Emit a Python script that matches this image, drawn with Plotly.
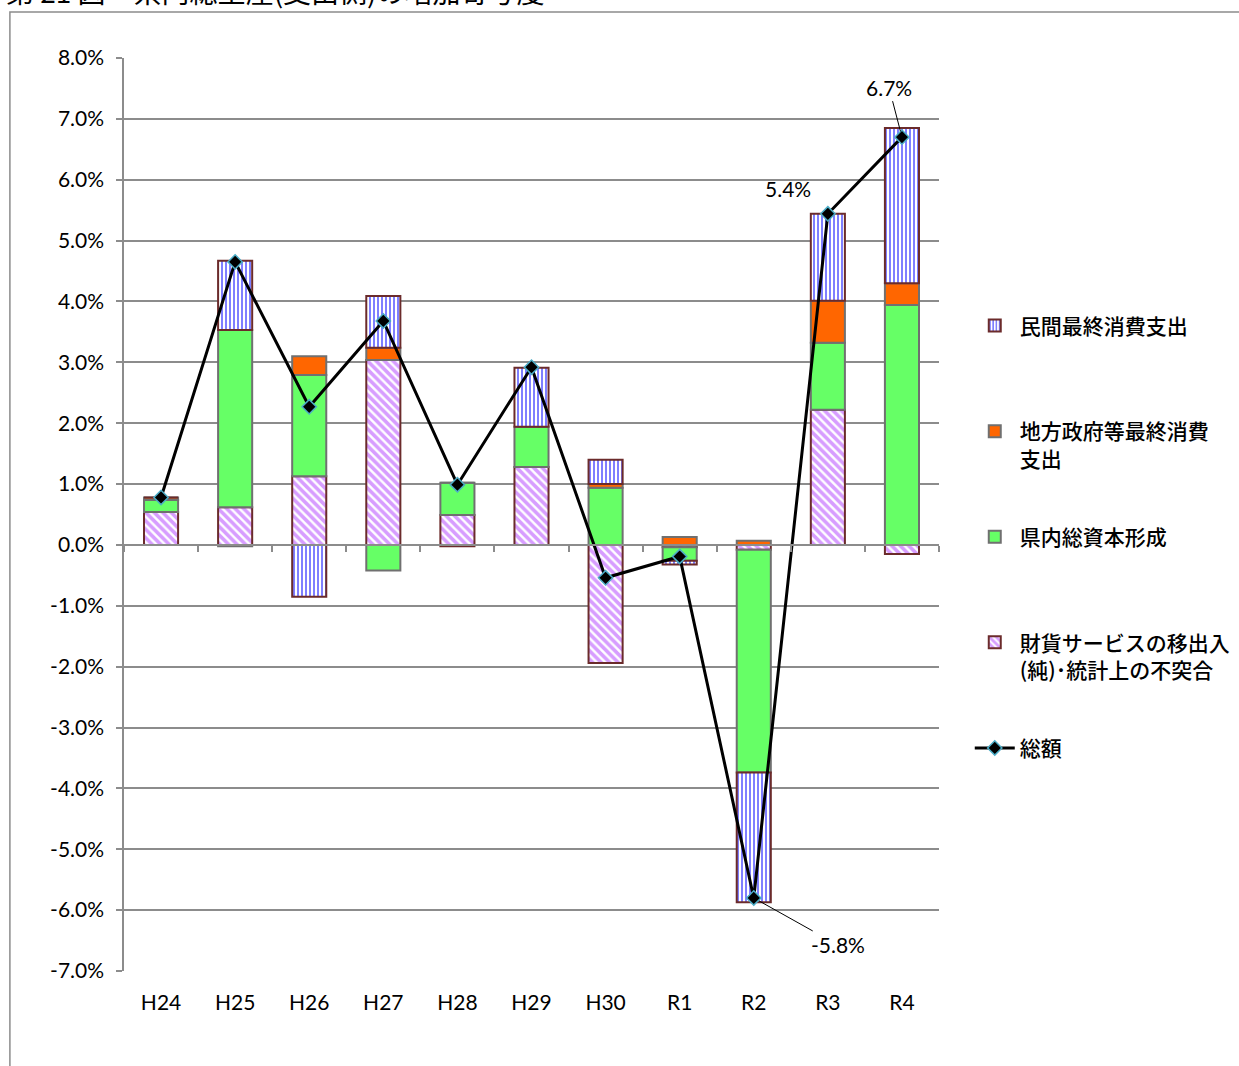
import plotly.graph_objects as go

# 年度
years = ["H24", "H25", "H26", "H27", "H28", "H29", "H30", "R1", "R2", "R3", "R4"]

# 項目別寄与度（%）
private_consumption = [0.00, 1.14, -0.85, 0.85, -0.02, 0.97, 0.40, -0.06, -2.13, 1.43, 2.55]
government_consumption = [0.04, -0.02, 0.31, 0.20, 0.00, 0.00, 0.06, 0.13, 0.07, 0.69, 0.36]
capital_formation = [0.20, 2.91, 1.66, -0.42, 0.53, 0.66, 0.94, -0.22, -3.66, 1.10, 3.94]
net_exports_discrepancy = [0.54, 0.62, 1.13, 3.04, 0.49, 1.28, -1.94, -0.04, -0.08, 2.22, -0.15]

# 総額（増加率, %）
total = [0.78, 4.65, 2.27, 3.68, 0.99, 2.92, -0.54, -0.19, -5.80, 5.44, 6.70]

# 目盛
y_ticks = [8, 7, 6, 5, 4, 3, 2, 1, 0, -1, -2, -3, -4, -5, -6, -7]

BROWN = "#6b2b2b"
GRAY_EDGE = "#707070"
JP_FONT = "Noto Sans CJK JP"
NUM_FONT = "Lato"
NBSP = "\u00a0"

fig = go.Figure()

# 積み上げ順：移出入 → 資本形成 → 政府消費 → 民間消費
fig.add_trace(go.Bar(
    x=years, y=net_exports_discrepancy,
    name="財貨サービスの移出入<br>(純)･統計上の不突合",
    legendgroup="d", legendrank=4,
    marker=dict(color="white", line=dict(color=BROWN, width=2),
                pattern=dict(shape="\\", fgcolor="#b03cff", bgcolor="white",
                             size=6, solidity=0.6)),
))
fig.add_trace(go.Bar(
    x=years, y=capital_formation,
    name="県内総資本形成<br>" + NBSP,
    legendgroup="c", legendrank=3,
    marker=dict(color="#66ff66", line=dict(color=GRAY_EDGE, width=2)),
))
fig.add_trace(go.Bar(
    x=years, y=government_consumption,
    name="地方政府等最終消費<br>支出",
    legendgroup="b", legendrank=2,
    marker=dict(color="#ff6600", line=dict(color=GRAY_EDGE, width=2)),
))
fig.add_trace(go.Bar(
    x=years, y=private_consumption,
    name="民間最終消費支出<br>" + NBSP,
    legendgroup="a", legendrank=1,
    marker=dict(color="white", line=dict(color=BROWN, width=2),
                pattern=dict(shape="|", fgcolor="#0000ff", bgcolor="white",
                             size=4, solidity=0.5)),
))
fig.add_trace(go.Scatter(
    x=years, y=total, xaxis="x2",
    name="総額<br>" + NBSP, legendgroup="e", legendrank=5,
    mode="lines+markers",
    line=dict(color="black", width=3),
    marker=dict(symbol="diamond", size=11, color="black",
                line=dict(color="#4bacc6", width=1.5)),
))

# 数値ラベル（R2〜R4）
fig.add_annotation(x="R3", y=total[9], xref="x2", yref="y",
                   text=f"{total[9]:.1f}%", showarrow=False,
                   xshift=-40, yshift=25,
                   font=dict(family=NUM_FONT, size=21, color="black"))
fig.add_annotation(x="R4", y=total[10], xref="x2", yref="y",
                   text=f"{total[10]:.1f}%", showarrow=True,
                   arrowhead=0, arrowwidth=1, arrowcolor="black",
                   ax=-13, ay=-50, standoff=6,
                   font=dict(family=NUM_FONT, size=21, color="black"))
fig.add_annotation(x="R2", y=total[8], xref="x2", yref="y",
                   text=f"{total[8]:.1f}%", showarrow=True,
                   arrowhead=0, arrowwidth=1, arrowcolor="black",
                   ax=84, ay=47, standoff=6,
                   font=dict(family=NUM_FONT, size=21, color="black"))

# 図表タイトル
fig.add_annotation(x=-0.147, y=1.0735, xref="paper", yref="paper",
                   xanchor="left", yanchor="middle", showarrow=False,
                   text="第 21 図　県内総生産(支出側)の増加寄与度",
                   font=dict(family=JP_FONT, size=28, color="black"))

# 外枠
fig.add_shape(type="rect", xref="paper", yref="paper",
              x0=-0.140, x1=1.40, y0=-0.12, y1=1.0505,
              line=dict(color="#8c8c8c", width=1.5), layer="below")

fig.update_layout(
    width=1239, height=1066,
    margin=dict(l=124, r=300, t=58, b=95, autoexpand=False),
    barmode="relative",
    bargap=0.54,
    plot_bgcolor="white",
    paper_bgcolor="white",
    font=dict(family=NUM_FONT, size=21, color="black"),
    xaxis=dict(
        type="category", categoryorder="array", categoryarray=years,
        range=[-0.5, len(years) - 0.5],
        showline=False, ticks="", showgrid=False,
        tickfont=dict(family=NUM_FONT, size=21),
        ticklabelstandoff=17,
        automargin=False,
    ),
    xaxis2=dict(
        type="category", categoryorder="array", categoryarray=years,
        range=[-0.5, len(years) - 0.5],
        overlaying="x", anchor="free", position=7 / 15,
        side="bottom",
        showline=True, linecolor="#8c8c8c", linewidth=1.5,
        ticks="outside", tickson="boundaries", ticklen=6,
        tickcolor="#8c8c8c", tickwidth=1.5,
        showticklabels=False, showgrid=False,
    ),
    yaxis=dict(
        range=[-7, 8], tickvals=y_ticks,
        ticktext=[f"{v:.1f}%" for v in y_ticks],
        showgrid=True, gridcolor="#8c8c8c", gridwidth=1.5,
        zeroline=False,
        showline=True, linecolor="#8c8c8c", linewidth=1.5,
        ticks="outside", ticklen=6, tickcolor="#8c8c8c", tickwidth=1.5,
        tickfont=dict(family=NUM_FONT, size=21),
        ticklabelstandoff=8,
        automargin=False,
    ),
    legend=dict(
        xref="container", yref="container",
        x=0.7827, y=0.7135, xanchor="left", yanchor="top",
        traceorder="grouped", tracegroupgap=48, valign="top",
        font=dict(family=JP_FONT, size=21, color="black", weight=500),
        bgcolor="rgba(0,0,0,0)",
        itemwidth=40,
    ),
)

fig.write_html("out.html")
